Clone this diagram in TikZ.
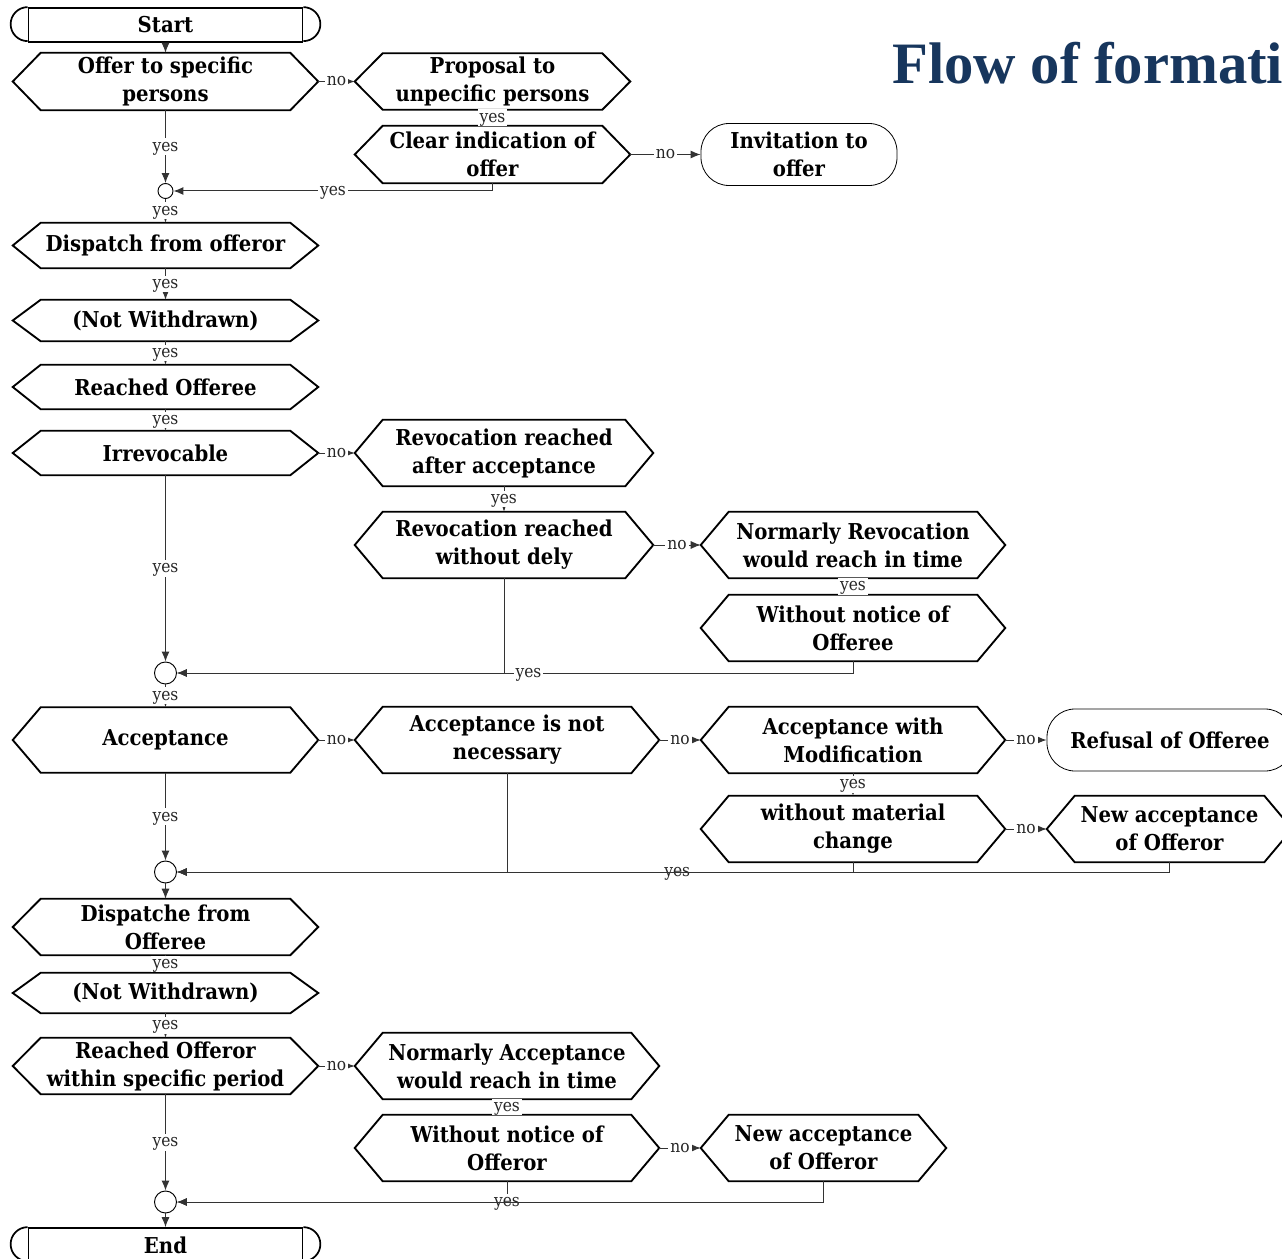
\documentclass[tikz,border=0pt]{standalone}
\usepackage{fontspec}
\newfontfamily\titlefont{Liberation Serif}
\newfontfamily\nodefont{DejaVu Serif}[FakeStretch=0.9]
\usetikzlibrary{arrows.meta,calc}
\definecolor{titleblue}{RGB}{23,54,93}
\tikzset{
  box/.style={rectangle, inner sep=0pt, align=center, font=\nodefont\bfseries\fontsize{16.4}{21}\selectfont},
  hx/.style 2 args={box, minimum width=#1*0.75pt, minimum height=#2*0.75pt},
  shapeline/.style={line width=1.4pt, line join=miter},
  rnd/.style 2 args={box, draw, line width=0.6pt, rounded corners=21pt, minimum width=#1*0.75pt, minimum height=#2*0.75pt},
  term/.style={box, draw, line width=1.3pt, minimum width=274*0.75pt, minimum height=34*0.75pt},
  junc/.style={circle, draw, line width=0.7pt, inner sep=0pt, minimum size=#1*0.75pt},
  conn/.style={draw=black!80, line width=0.75pt, -{Latex[length=7.5pt,width=6pt]}},
  lbl/.style={fill=white, inner xsep=1.5pt, inner ysep=3pt, text height=6.7pt, text depth=0pt, font=\nodefont\fontsize{12.9}{14}\selectfont, text=black!85},
}
\begin{document}
\begin{tikzpicture}[x=0.75pt,y=0.75pt]
\useasboundingbox (0,0) rectangle (1282,-1259);

% title
\node[anchor=base west, inner sep=0pt, font=\titlefont\fontsize{44}{50}\selectfont\bfseries, text=titleblue] (title) at (892,-84) {Flow of formati};

% nodes
\node[term] (start) at (165.5,-25) {Start};
\node[hx={305}{57}] (offer) at (165.5,-81.5) {Offer to specific\\persons};
\node[hx={275}{56}] (prop) at (492.5,-81.5) {Proposal to\\unpecific persons};
\node[hx={275}{57}] (clear) at (492.5,-154.5) {Clear indication of\\offer};
\node[rnd={196}{62}] (invit) at (799,-154.5) {Invitation to\\offer};
\node[junc=15] (j1) at (165.5,-191) {};
\node[hx={305}{45}] (disp) at (165.5,-245.5) {Dispatch from offeror};
\node[hx={305}{41}] (notw) at (165.5,-320.5) {(Not Withdrawn)};
\node[hx={305}{44}] (reachee) at (165.5,-387) {Reached Offeree};
\node[hx={305}{44}] (irrev) at (165.5,-453) {Irrevocable};
\node[hx={298}{66}] (revafter) at (504,-453) {Revocation reached\\after acceptance};
\node[hx={298}{66}] (revwo) at (504,-545) {Revocation reached\\without dely};
\node[hx={304}{66}] (normrev) at (853,-545) {Normarly Revocation\\would reach in time};
\node[hx={304}{66}] (wnee) at (853,-628) {Without notice of\\Offeree};
\node[junc=22] (j2) at (165.5,-673) {};
\node[hx={305}{65}] (accept) at (165.5,-740) {Acceptance};
\node[hx={304}{66}] (accnn) at (507,-740) {Acceptance is not\\necessary};
\node[hx={304}{66}] (accmod) at (853,-740) {Acceptance with\\Modification};
\node[rnd={246}{62}] (refusal) at (1170,-740) {Refusal of Offeree};
\node[hx={304}{66}] (womat) at (853,-829) {without material\\change};
\node[hx={245}{66}] (newacc1) at (1169.5,-829) {New acceptance\\of Offeror};
\node[junc=22] (j3) at (165.5,-872) {};
\node[hx={305}{56}] (dispee) at (165.5,-927) {Dispatche from\\Offeree};
\node[hx={305}{40}] (notw2) at (165.5,-993) {(Not Withdrawn)};
\node[hx={305}{56}] (reachor) at (165.5,-1066) {Reached Offeror\\within specific period};
\node[hx={304}{66}] (normacc) at (507,-1066) {Normarly Acceptance\\would reach in time};
\node[hx={304}{66}] (wnor) at (507,-1148) {Without notice of\\Offeror};
\node[hx={245}{66}] (newacc2) at (823.5,-1148) {New acceptance\\of Offeror};
\node[junc=22] (j4) at (165.5,-1202) {};
\node[term] (end) at (165.5,-1245) {End};

% hexagon outlines
\foreach \n in {offer,prop,clear,disp,notw,reachee,irrev,revafter,revwo,normrev,wnee,accept,accnn,accmod,womat,newacc1,dispee,notw2,reachor,normacc,wnor,newacc2}
  \draw[shapeline] (\n.west) -- ([xshift=21pt]\n.north west) -- ([xshift=-21pt]\n.north east) -- (\n.east) -- ([xshift=-21pt]\n.south east) -- ([xshift=21pt]\n.south west) -- cycle;

% terminal caps
\foreach \n in {start,end} {
  \draw[line width=1.3pt] (\n.north west) arc[start angle=90,end angle=270,radius=12.75pt];
  \draw[line width=1.3pt] (\n.north east) arc[start angle=90,end angle=-90,radius=12.75pt];
}

% connectors
\draw[conn] (start) -- (offer);
\draw[conn] (offer) -- node[lbl]{no} (prop);
\draw[conn] (prop) -- node[lbl]{yes} (clear);
\draw[conn] (clear) -- node[lbl]{no} (invit);
\draw[conn] (offer) -- node[lbl]{yes} (j1);
\draw[conn] (clear.south) |- node[lbl,pos=0.75]{yes} (j1);
\draw[conn] (j1) -- node[lbl]{yes} (disp);
\draw[conn] (disp) -- node[lbl]{yes} (notw);
\draw[conn] (notw) -- node[lbl]{yes} (reachee);
\draw[conn] (reachee) -- node[lbl]{yes} (irrev);
\draw[conn] (irrev) -- node[lbl]{no} (revafter);
\draw[conn] (revafter) -- node[lbl]{yes} (revwo);
\draw[conn] (revwo) -- node[lbl]{no} (normrev);
\draw[conn] (normrev) -- node[lbl]{yes} (wnee);
\draw[conn] (irrev) -- node[lbl]{yes} (j2);
\draw[conn] (revwo.south) |- (j2);
\draw[conn] (wnee.south) |- node[lbl,pos=0.74]{yes} (j2);
\draw[conn] (j2) -- node[lbl]{yes} (accept);
\draw[conn] (accept) -- node[lbl]{no} (accnn);
\draw[conn] (accnn) -- node[lbl]{no} (accmod);
\draw[conn] (accmod) -- node[lbl]{no} (refusal);
\draw[conn] (accmod) -- node[lbl]{yes} (womat);
\draw[conn] (womat) -- node[lbl]{no} (newacc1);
\draw[conn] (accept) -- node[lbl]{yes} (j3);
\draw[conn] (accnn.south) |- (j3);
\draw[conn] (womat.south) |- node[lbl,pos=0.63]{yes} (j3);
\draw[conn] (newacc1.south) |- (j3);
\draw[conn] (j3) -- (dispee);
\draw[conn] (dispee) -- node[lbl]{yes} (notw2);
\draw[conn] (notw2) -- node[lbl]{yes} (reachor);
\draw[conn] (reachor) -- node[lbl]{no} (normacc);
\draw[conn] (normacc) -- node[lbl]{yes} (wnor);
\draw[conn] (wnor) -- node[lbl]{no} (newacc2);
\draw[conn] (reachor) -- node[lbl]{yes} (j4);
\draw[conn] (wnor.south) |- node[lbl,pos=0.5]{yes} (j4);
\draw[conn] (newacc2.south) |- (j4);
\draw[conn] (j4) -- (end);
\end{tikzpicture}
\end{document}
